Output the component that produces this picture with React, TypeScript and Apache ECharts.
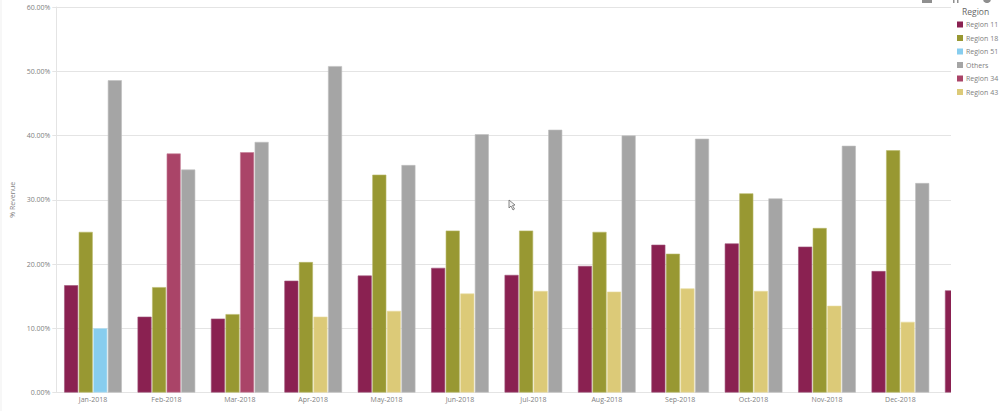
import React, { useEffect, useRef } from "react";
import * as echarts from "echarts";

const months = ["Jan-2018","Feb-2018","Mar-2018","Apr-2018","May-2018","Jun-2018","Jul-2018","Aug-2018","Sep-2018","Oct-2018","Nov-2018","Dec-2018",""];
const region11 = [16.7,11.8,11.5,17.4,18.2,19.4,18.3,19.7,23.0,23.2,22.7,18.9,15.9];
const region18 = [25.0,16.4,12.2,20.3,33.9,25.2,25.2,25.0,21.6,31.0,25.6,37.7,null];
const region51 = [10.0,null,null,null,null,null,null,null,null,null,null,null,null];
const others = [48.6,34.7,39.0,50.8,35.4,40.2,40.9,40.0,39.5,30.2,38.4,32.6,null];
const region34 = [null,37.2,37.4,null,null,null,null,null,null,null,null,null,null];
const region43 = [null,null,null,11.8,12.7,15.4,15.8,15.7,16.2,15.8,13.5,11.0,null];
const yTicks = { min: 0, max: 60, interval: 10 };

const FONT = "'Open Sans', sans-serif";
const bar = (name: string, data: (number | null)[], color: string, stack: string, edge: string) => ({
  name, type: "bar", stack, data, barWidth: 14, barGap: "4%",
  itemStyle: { color, borderColor: edge, borderWidth: 0.6 },
});

export default function App() {
  const ref = useRef<HTMLDivElement>(null);
  useEffect(() => {
    const chart = echarts.init(ref.current!, undefined, { renderer: "svg" });
    chart.setOption({
      animation: false,
      backgroundColor: "#ffffff",
      textStyle: { fontFamily: FONT },
      grid: { left: 56.3, top: 7, width: 954.2, height: 385.5, containLabel: false },
      xAxis: {
        type: "category", data: months,
        axisLine: { lineStyle: { color: "#e4e4e4", width: 1 } },
        axisTick: { show: false },
        axisLabel: { color: "#808080", fontSize: 7, margin: 3, interval: 0, fontFamily: FONT },
      },
      yAxis: {
        type: "value", ...yTicks,
        name: "% Revenue", nameLocation: "middle", nameGap: 39,
        nameTextStyle: { color: "#808080", fontSize: 7, fontFamily: FONT },
        axisLine: { show: true, lineStyle: { color: "#e4e4e4", width: 1 } },
        axisTick: { show: true, length: 4, lineStyle: { color: "#e4e4e4" } },
        axisLabel: { color: "#808080", fontSize: 7, margin: 6, fontFamily: FONT, formatter: (v: number) => v.toFixed(2) + "%" },
        splitLine: { show: true, lineStyle: { color: "#e4e4e4", width: 1 } },
      },
      legend: {
        orient: "vertical", left: 957, top: 21, z: 200, padding: 0,
        itemWidth: 6, itemHeight: 6, itemGap: 6.5, icon: "rect",
        itemStyle: { borderWidth: 0 },
        textStyle: { color: "#808080", fontSize: 7, fontFamily: FONT, padding: [0, 0, 0, -2] },
        data: ["Region 11","Region 18","Region 51","Others","Region 34","Region 43"],
      },
      series: [
        bar("Region 11", region11, "#8a2151", "a", "#a0557a"),
        bar("Region 18", region18, "#989832", "b", "#b9b96a"),
        bar("Region 51", region51, "#87cdee", "c", "#b5e0f4"),
        bar("Others", others, "#a5a5a5", "d", "#c0c0c0"),
        bar("Region 34", region34, "#aa4468", "c", "#c47d96"),
        bar("Region 43", region43, "#dcca78", "c", "#e8dca0"),
      ],
      graphic: [
        { type: "rect", z: 100, shape: { x: 951, y: 0, width: 90, height: 411 }, style: { fill: "#ffffff" } },
        { type: "rect", z: 101, shape: { x: 0.5, y: 0, width: 1, height: 411 }, style: { fill: "#f0f0f0" } },
        { type: "rect", z: 201, shape: { x: 922, y: 0, width: 10, height: 3 }, style: { fill: "#8f8f8f" } },
        { type: "rect", z: 201, shape: { x: 953, y: 0, width: 1.5, height: 3 }, style: { fill: "#8f8f8f" } },
        { type: "rect", z: 201, shape: { x: 957, y: 0, width: 1.5, height: 3 }, style: { fill: "#8f8f8f" } },
        { type: "circle", z: 201, shape: { cx: 987, cy: -1, r: 4 }, style: { fill: "#8f8f8f" } },
        { type: "text", z: 201, x: 962, y: 7, style: { text: "Region", fill: "#666666", fontSize: 8.5, fontFamily: FONT } },
        { type: "polygon", z: 201, shape: { points: [[509,200],[509,208],[511,206],[513,210],[514.5,209],[512.5,205.5],[515,205]] }, style: { fill: "#f4f4f4", stroke: "#6a6a6a", lineWidth: 0.8 } },
      ],
    });
    return () => chart.dispose();
  }, []);
  return (
    <div style={{ position: "absolute", left: 0, top: 0, width: 999, height: 411, overflow: "hidden" }}>
      <div ref={ref} style={{ width: 1040, height: 411 }} />
    </div>
  );
}
